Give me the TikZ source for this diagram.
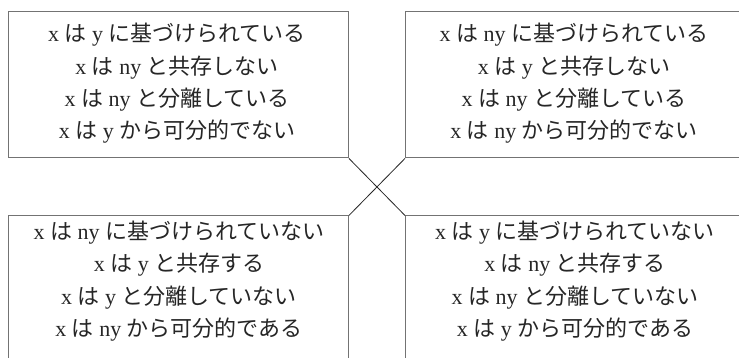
\documentclass[tikz,border=0pt]{standalone}
\usepackage{fontspec}
\setmainfont{Liberation Serif}
\newfontfamily\jp{Noto Sans CJK JP}
\newcommand\J[1]{{\jp #1}}
\begin{document}
\begin{tikzpicture}[x=1pt,y=-1pt,
  box/.style={draw=black!55, line width=0.9pt, inner sep=0pt, minimum width=340pt, anchor=north west},
  txt/.style={align=center, font=\fontsize{22}{32.3}\selectfont, text=black!85, inner sep=0pt},
  cross/.style={draw=black!85, line width=0.8pt}]
\clip (0,0) rectangle (739,358);
\fill[white] (0,0) rectangle (739,358);
% boxes
\node[box, minimum height=146pt] (tl) at (8,11.5) {};
\node[box, minimum height=146pt] (tr) at (405,11.5) {};
\node[box, minimum height=200pt] (bl) at (8,215.5) {};
\node[box, minimum height=200pt] (br) at (405,215.5) {};
% texts
\node[txt] (tlt) at (177,83.5) {x \J{は} y \J{に基づけられている}\\x \J{は} ny \J{と共存しない}\\x \J{は} ny \J{と分離している}\\x \J{は} y \J{から可分的でない}};
\node[txt] (trt) at (574,83.5) {x \J{は} ny \J{に基づけられている}\\x \J{は} y \J{と共存しない}\\x \J{は} ny \J{と分離している}\\x \J{は} ny \J{から可分的でない}};
\node[txt] (blt) at (179,281) {x \J{は} ny \J{に基づけられていない}\\x \J{は} y \J{と共存する}\\x \J{は} y \J{と分離していない}\\x \J{は} ny \J{から可分的である}};
\node[txt] (brt) at (575,281) {x \J{は} y \J{に基づけられていない}\\x \J{は} ny \J{と共存する}\\x \J{は} ny \J{と分離していない}\\x \J{は} y \J{から可分的である}};
% cross
\draw[cross] (tl.south east) -- (br.north west);
\draw[cross] (tr.south west) -- (bl.north east);
\end{tikzpicture}
\end{document}
